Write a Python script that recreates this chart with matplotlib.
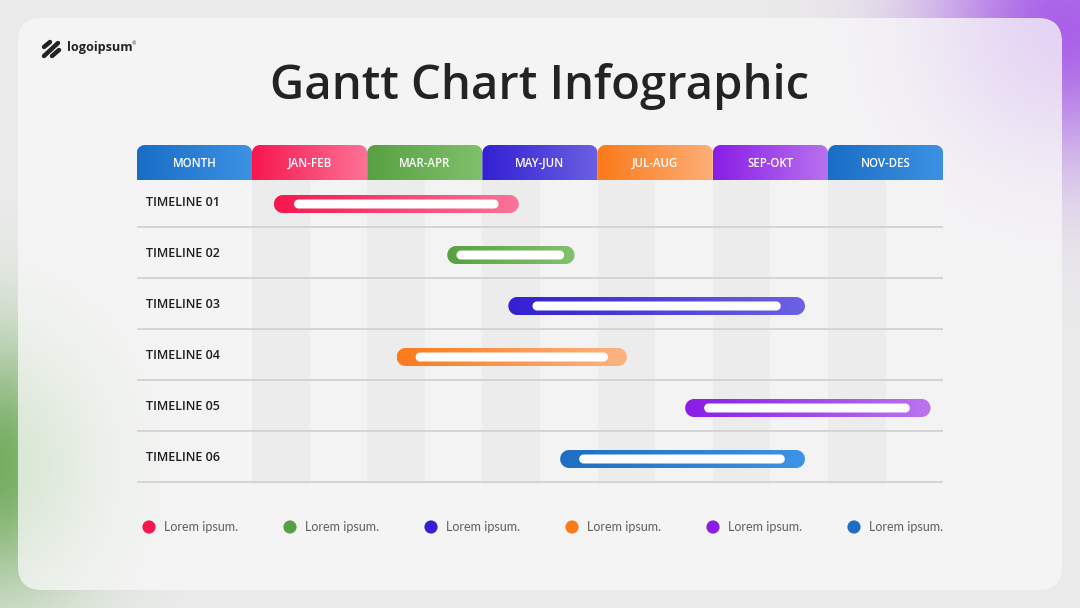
import numpy as np
import matplotlib
matplotlib.use("Agg")

import matplotlib.pyplot as plt
from matplotlib.colors import LinearSegmentedColormap, to_rgb
from matplotlib.patches import FancyBboxPatch, PathPatch
from matplotlib.path import Path

# ── data ──────────────────────────────────────────────────────────
columns = ["MONTH", "JAN-FEB", "MAR-APR", "MAY-JUN", "JUL-AUG", "SEP-OKT", "NOV-DES"]
header_colors = [
    ("#1a6dc5", "#3c92e4"),
    ("#f7164f", "#fd7397"),
    ("#58a043", "#80c16c"),
    ("#3320d3", "#6b60e2"),
    ("#fb7a1a", "#fdae78"),
    ("#8a1de6", "#b872ef"),
    ("#1a6dc5", "#3c92e4"),
]
timelines = ["TIMELINE 01", "TIMELINE 02", "TIMELINE 03",
             "TIMELINE 04", "TIMELINE 05", "TIMELINE 06"]
# bar extents in months (0 = start of January)
bar_start = [0.38, 3.39, 4.45, 2.51, 7.52, 5.35]
bar_end = [4.63, 5.60, 9.60, 6.51, 11.78, 9.60]
inner_start = [0.73, 3.55, 4.87, 2.84, 7.85, 5.68]
inner_end = [4.28, 5.42, 9.18, 6.18, 11.42, 9.25]
bar_colors = [
    ("#f5174f", "#fc7399"),
    ("#58a043", "#82c26e"),
    ("#3320d3", "#6c62e3"),
    ("#fb7a1a", "#fdb483"),
    ("#8a1de6", "#bb74f0"),
    ("#1f6ec4", "#3f93e6"),
]
legend_labels = ["Lorem ipsum."] * 6

# ── layout (pixels) ───────────────────────────────────────────────
W, H = 1080, 608
PX_MONTH = 57.6
PX_ROW = 51.0
X0_PX = 252.0     # pixel of month 0
Y0_PX = 204.0     # pixel of row 0 centre
XLIM = (-2, 12)
YLIM = (7.0, -1.3)

fig = plt.figure(figsize=(W / 100, H / 100), dpi=100)

# background / card
bg = fig.add_axes([0, 0, 1, 1])
bg.set_xlim(0, W)
bg.set_ylim(H, 0)
bg.axis("off")

yy, xx = np.mgrid[0:H, 0:W]
wp = 0.95 * np.exp(-((xx - 1065) ** 2 + (yy - 25) ** 2) / (2 * 95.0 ** 2))
wg = 0.85 * np.exp(-((xx + 10) ** 2 / (2 * 75.0 ** 2) + (yy - 465) ** 2 / (2 * 90.0 ** 2)))
base = np.array(to_rgb("#ebebeb"))
purple = np.array(to_rgb("#a65ae8"))
green = np.array(to_rgb("#5fa348"))
img = (base * (1 - wp - wg)[..., None] + purple * wp[..., None] + green * wg[..., None])
bg.imshow(np.clip(img, 0, 1), extent=[0, W, H, 0], zorder=0, interpolation="bilinear")

card = FancyBboxPatch((18, 18), 1044, 572, boxstyle="round,pad=0,rounding_size=24",
                      fc="#f8f8f8", ec="none", alpha=0.76, zorder=1)
bg.add_patch(card)

bg.text(540, 86, "Gantt Chart Infographic", ha="center", va="center",
        fontsize=34, fontweight="semibold", color="#232323", family="Open Sans", zorder=3)

# logo
for (xa, ya, xb, yb) in [(44, 47, 50, 42), (44, 56, 58, 43), (52, 56, 59, 50)]:
    bg.plot([xa, xb], [ya, yb], color="#222222", lw=3.2, solid_capstyle="round", zorder=3)
bg.text(67, 48, "logoipsum", ha="left", va="center", fontsize=9.1,
        fontweight="bold", color="#222222", family="Open Sans", zorder=3)
bg.text(131.5, 44, "®", ha="left", va="center", fontsize=3.5, color="#222222", zorder=3)

# ── gantt axes ───────────────────────────────────────────────────
left_px = X0_PX + XLIM[0] * PX_MONTH
right_px = X0_PX + XLIM[1] * PX_MONTH
top_px = Y0_PX + YLIM[1] * PX_ROW
bot_px = Y0_PX + YLIM[0] * PX_ROW
ax = fig.add_axes([left_px / W, 1 - bot_px / H, (right_px - left_px) / W, (bot_px - top_px) / H])
ax.set_facecolor("none")
ax.axis("off")

y_top = (145 - Y0_PX) / PX_ROW
y_bot = (180 - Y0_PX) / PX_ROW
n_rows = len(timelines)
rows = np.arange(n_rows)


def rounded_path(x0, x1, top, bot, r_px, top_only=False):
    """Rounded box in data coords (y grows downward), corners circular in pixels."""
    rx, ry = r_px / PX_MONTH, r_px / PX_ROW
    t = np.linspace(0, np.pi / 2, 16)
    pts = []
    cx, cy = x0 + rx, top + ry
    pts += list(zip(cx - rx * np.cos(t), cy - ry * np.sin(t)))
    cx, cy = x1 - rx, top + ry
    pts += list(zip(cx + rx * np.sin(t), cy - ry * np.cos(t)))
    if top_only:
        pts += [(x1, bot), (x0, bot)]
    else:
        cx, cy = x1 - rx, bot - ry
        pts += list(zip(cx + rx * np.cos(t), cy + ry * np.sin(t)))
        cx, cy = x0 + rx, bot - ry
        pts += list(zip(cx - rx * np.sin(t), cy + ry * np.cos(t)))
    pts.append(pts[0])
    return Path(np.array(pts), closed=True)


def gradient_fill(path, x0, x1, top, bot, c0, c1, z):
    clip = PathPatch(path, fc="none", ec="none", zorder=z)
    ax.add_patch(clip)
    cmap = LinearSegmentedColormap.from_list("g", [c0, c1])
    im = ax.imshow(np.linspace(0, 1, 256)[None, :], cmap=cmap, aspect="auto",
                   extent=[x0, x1, bot, top], zorder=z, interpolation="bilinear")
    im.set_clip_path(clip)


# month stripes
months = np.arange(12)
stripe_cols = ["#ececec" if m % 2 == 0 else "#f3f3f3" for m in months]
ax.bar(months, n_rows - 0.5 - y_bot, bottom=y_bot, width=1, align="edge",
       color=stripe_cols, zorder=1)

# header
for j, (label, (c0, c1)) in enumerate(zip(columns, header_colors)):
    hx0 = XLIM[0] + 2 * j
    p = rounded_path(hx0, hx0 + 2, y_top, y_bot, 8, top_only=True)
    gradient_fill(p, hx0, hx0 + 2, y_top, y_bot, c0, c1, 3)
    ax.text(hx0 + 1, (y_top + y_bot) / 2 + 0.01, label, ha="center", va="center", color="white",
            fontsize=8.3, fontweight="semibold", family="Open Sans", zorder=4)

# row separators and labels
for i, name in enumerate(timelines):
    ax.plot(XLIM, [i + 0.46, i + 0.46], color="#cdcdcd", lw=1.1, zorder=2)
    ax.text(XLIM[0] + 9 / PX_MONTH, i - 0.03, name, ha="left", va="center", color="#1e1e1e",
            fontsize=9, fontweight="semibold", family="Open Sans", zorder=4)

# bars
bar_h = 18 / PX_ROW
inner_h = 9 / PX_ROW
for i in rows:
    c0, c1 = bar_colors[i]
    top, bot = i - bar_h / 2, i + bar_h / 2
    p = rounded_path(bar_start[i], bar_end[i], top, bot, 9)
    gradient_fill(p, bar_start[i], bar_end[i], top, bot, c0, c1, 5)
    pi = rounded_path(inner_start[i], inner_end[i], i - inner_h / 2, i + inner_h / 2, 4.5)
    ax.add_patch(PathPatch(pi, fc="white", ec="none", zorder=6))

# legend
leg_y = (527 - Y0_PX) / PX_ROW
leg_x = (149 - X0_PX) / PX_MONTH + np.arange(6) * (141 / PX_MONTH)
ax.scatter(leg_x, [leg_y] * 6, s=90, c=[c[0] for c in bar_colors], zorder=5, linewidths=0)
for lx, lab in zip(leg_x, legend_labels):
    ax.text(lx + 15 / PX_MONTH, leg_y, lab, ha="left", va="center", color="#5f5f5f",
            fontsize=9, family="Lato", zorder=5)

ax.set_xlim(*XLIM)
ax.set_ylim(*YLIM)

fig.savefig("out.png", dpi=100)
